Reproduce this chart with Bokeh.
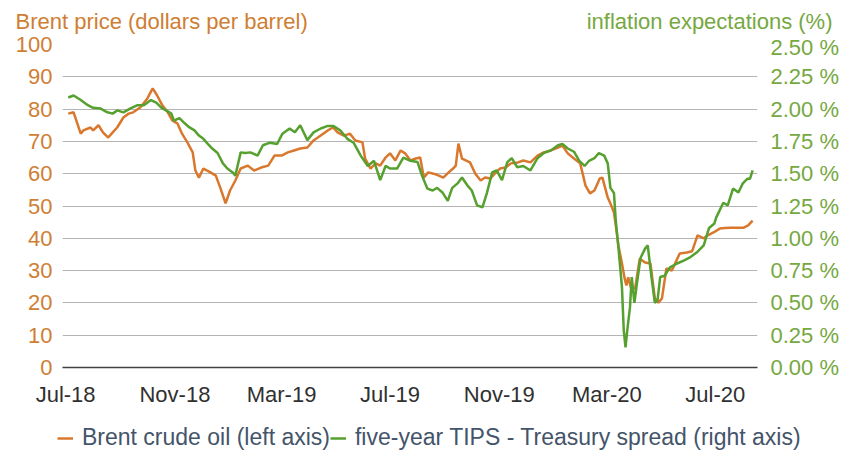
import pandas as pd
from bokeh.plotting import figure
from bokeh.layouts import column
from bokeh.models import (Range1d, LinearAxis, FixedTicker, PrintfTickFormatter,
                          DatetimeTickFormatter, Legend, LegendItem, Label, ColumnDataSource)
from bokeh.embed import file_html
from bokeh.resources import INLINE

# ---------------- data ----------------
brent_dates = [
    "2018-07-04", "2018-07-10", "2018-07-18", "2018-07-21", "2018-07-29", "2018-08-01", "2018-08-07",
    "2018-08-12", "2018-08-18", "2018-08-23", "2018-08-28", "2018-09-04", "2018-09-10", "2018-09-15",
    "2018-09-23", "2018-10-01", "2018-10-07", "2018-10-12", "2018-10-18", "2018-10-24", "2018-10-29",
    "2018-11-04", "2018-11-09", "2018-11-15", "2018-11-21", "2018-11-24", "2018-11-28", "2018-12-03",
    "2018-12-11", "2018-12-17", "2018-12-22", "2018-12-28", "2019-01-02", "2019-01-08", "2019-01-14",
    "2019-01-22", "2019-01-29", "2019-02-06", "2019-02-14", "2019-02-21", "2019-03-01", "2019-03-08",
    "2019-03-15", "2019-03-22", "2019-03-30", "2019-04-06", "2019-04-14", "2019-04-22", "2019-04-28",
    "2019-05-03", "2019-05-10", "2019-05-17", "2019-05-23", "2019-05-31", "2019-06-03", "2019-06-09",
    "2019-06-15", "2019-06-20", "2019-06-26", "2019-07-01", "2019-07-07", "2019-07-13", "2019-07-18",
    "2019-07-24", "2019-07-30", "2019-08-04", "2019-08-08", "2019-08-13", "2019-08-19", "2019-08-25",
    "2019-08-30", "2019-09-05", "2019-09-10", "2019-09-13", "2019-09-16", "2019-09-20", "2019-09-29",
    "2019-10-05", "2019-10-11", "2019-10-16", "2019-10-22", "2019-10-28", "2019-11-02", "2019-11-08",
    "2019-11-14", "2019-11-22", "2019-11-28", "2019-12-06", "2019-12-14", "2019-12-21", "2019-12-29",
    "2020-01-06", "2020-01-11", "2020-01-17", "2020-01-24", "2020-01-31", "2020-02-06", "2020-02-11",
    "2020-02-16", "2020-02-22", "2020-02-25", "2020-03-02", "2020-03-05", "2020-03-09", "2020-03-12",
    "2020-03-14", "2020-03-18", "2020-03-21", "2020-03-23", "2020-03-25", "2020-03-29", "2020-04-02",
    "2020-04-07", "2020-04-13", "2020-04-19", "2020-04-24", "2020-04-28", "2020-05-02", "2020-05-07",
    "2020-05-13", "2020-05-22", "2020-05-30", "2020-06-05", "2020-06-11", "2020-06-18", "2020-06-23",
    "2020-06-29", "2020-07-06", "2020-07-12", "2020-07-18", "2020-07-26", "2020-08-02", "2020-08-07",
    "2020-08-12",
]
brent_price = [
    78.6, 79.0, 72.4, 73.4, 74.3, 73.4, 75.0,
    72.8, 71.2, 72.8, 74.3, 77.4, 78.6, 79.0,
    80.5, 83.3, 86.4, 84.2, 81.1, 79.0, 76.5,
    75.5, 72.4, 69.7, 66.6, 61.0, 58.8, 61.6,
    60.4, 59.4, 55.7, 50.8, 54.8, 57.9, 61.6,
    62.5, 61.0, 61.9, 62.5, 65.6, 65.6, 66.6,
    67.2, 67.8, 68.1, 70.3, 71.8, 73.4, 74.3,
    72.8, 71.8, 72.4, 70.3, 69.7, 64.7, 61.6,
    63.2, 62.5, 65.0, 66.3, 64.1, 67.2, 66.3,
    64.1, 64.7, 65.0, 58.8, 60.4, 60.0, 59.4,
    58.8, 60.4, 61.6, 62.5, 69.3, 64.7, 63.5,
    60.0, 57.9, 58.8, 58.5, 60.4, 61.6, 61.9,
    63.2, 63.5, 64.1, 63.5, 65.6, 66.6, 67.2,
    68.1, 68.7, 66.3, 64.7, 63.2, 56.3, 53.9,
    54.8, 58.5, 58.8, 52.6, 50.8, 48.0, 42.0,
    37.8, 32.2, 27.6, 25.4, 27.9, 23.8, 24.8,
    33.7, 32.5, 32.2, 21.4, 20.1, 21.4, 30.7,
    30.0, 35.3, 35.6, 36.0, 40.9, 40.0, 41.0,
    41.8, 43.0, 43.2, 43.3, 43.3, 43.3, 44.0,
    45.5,
]

tips_dates = [
    "2018-07-04", "2018-07-10", "2018-07-18", "2018-07-26", "2018-08-01", "2018-08-09", "2018-08-17",
    "2018-08-23", "2018-08-28", "2018-09-04", "2018-09-12", "2018-09-20", "2018-09-27", "2018-10-05",
    "2018-10-11", "2018-10-17", "2018-10-22", "2018-10-28", "2018-10-31", "2018-11-06", "2018-11-12",
    "2018-11-17", "2018-11-23", "2018-11-28", "2018-12-03", "2018-12-08", "2018-12-13", "2018-12-19",
    "2018-12-25", "2018-12-30", "2019-01-05", "2019-01-08", "2019-01-14", "2019-01-19", "2019-01-25",
    "2019-02-02", "2019-02-08", "2019-02-16", "2019-02-24", "2019-03-02", "2019-03-10", "2019-03-16",
    "2019-03-22", "2019-03-30", "2019-04-06", "2019-04-14", "2019-04-22", "2019-04-28", "2019-05-06",
    "2019-05-14", "2019-05-21", "2019-05-29", "2019-06-06", "2019-06-13", "2019-06-20", "2019-06-26",
    "2019-07-01", "2019-07-09", "2019-07-16", "2019-07-24", "2019-08-01", "2019-08-06", "2019-08-12",
    "2019-08-18", "2019-08-23", "2019-08-29", "2019-09-04", "2019-09-09", "2019-09-15", "2019-09-20",
    "2019-09-26", "2019-10-01", "2019-10-07", "2019-10-13", "2019-10-18", "2019-10-24", "2019-10-29",
    "2019-11-04", "2019-11-10", "2019-11-15", "2019-11-21", "2019-11-28", "2019-12-06", "2019-12-14",
    "2019-12-21", "2019-12-29", "2020-01-06", "2020-01-11", "2020-01-17", "2020-01-24", "2020-01-30",
    "2020-02-05", "2020-02-10", "2020-02-16", "2020-02-21", "2020-02-27", "2020-03-02", "2020-03-05",
    "2020-03-09", "2020-03-11", "2020-03-14", "2020-03-18", "2020-03-20", "2020-03-22", "2020-03-24",
    "2020-03-27", "2020-03-29", "2020-04-01", "2020-04-04", "2020-04-08", "2020-04-13", "2020-04-16",
    "2020-04-20", "2020-04-24", "2020-04-27", "2020-04-30", "2020-05-05", "2020-05-11", "2020-05-19",
    "2020-05-27", "2020-06-02", "2020-06-10", "2020-06-18", "2020-06-24", "2020-06-30", "2020-07-02",
    "2020-07-10", "2020-07-15", "2020-07-21", "2020-07-27", "2020-08-01", "2020-08-06", "2020-08-09",
    "2020-08-12",
]
tips_spread = [
    2.09, 2.105, 2.07, 2.03, 2.01, 2.005, 1.975,
    1.965, 1.99, 1.975, 2.005, 2.03, 2.03, 2.07,
    2.05, 2.01, 1.99, 1.965, 1.91, 1.93, 1.89,
    1.86, 1.835, 1.795, 1.77, 1.73, 1.695, 1.66,
    1.58, 1.54, 1.51, 1.485, 1.665, 1.66, 1.665,
    1.64, 1.72, 1.74, 1.73, 1.81, 1.85, 1.82,
    1.875, 1.76, 1.82, 1.85, 1.87, 1.87, 1.835,
    1.77, 1.74, 1.64, 1.56, 1.60, 1.45, 1.56,
    1.54, 1.54, 1.625, 1.60, 1.59, 1.485, 1.385,
    1.37, 1.39, 1.355, 1.29, 1.39, 1.425, 1.47,
    1.41, 1.37, 1.255, 1.24, 1.35, 1.51, 1.525,
    1.45, 1.59, 1.62, 1.55, 1.56, 1.525, 1.62,
    1.66, 1.68, 1.72, 1.73, 1.695, 1.67, 1.60,
    1.56, 1.60, 1.62, 1.66, 1.64, 1.58, 1.39,
    1.35, 1.14, 0.93, 0.62, 0.29, 0.155, 0.29,
    0.465, 0.70, 0.50, 0.66, 0.85, 0.92, 0.945,
    0.71, 0.50, 0.52, 0.70, 0.71, 0.775, 0.805,
    0.83, 0.85, 0.89, 0.945, 1.08, 1.115, 1.16,
    1.275, 1.255, 1.385, 1.355, 1.425, 1.46, 1.46,
    1.525,
]

x_tick_dates = ["2018-07-01", "2018-11-01", "2019-03-01", "2019-07-01",
                "2019-11-01", "2020-03-01", "2020-07-01"]
left_ticks = [0, 10, 20, 30, 40, 50, 60, 70, 80, 90, 100]
right_ticks = [0.0, 0.25, 0.5, 0.75, 1.0, 1.25, 1.5, 1.75, 2.0, 2.25, 2.5]

left_title = "Brent price (dollars per barrel)"
right_title = "inflation expectations (%)"
brent_label = "Brent crude oil (left axis)"
tips_label = "five-year TIPS - Treasury spread (right axis)"

# ---------------- style ----------------
FONT = "Liberation Sans"
ORANGE = "#D9782D"
GREEN = "#55A02F"
ORANGE_TXT = "#CF7E33"
GREEN_TXT = "#76A842"
W = 846
TOP_H = 34
MAIN_H = 376
BOT_H = 46


def bare(fig):
    fig.outline_line_color = None
    fig.xgrid.visible = False
    fig.ygrid.visible = False
    fig.background_fill_color = "white"
    fig.border_fill_color = "white"
    fig.frame_align = False
    return fig


# ---------------- header (axis titles) ----------------
ft = figure(width=W, height=TOP_H, title=None, output_backend="svg", toolbar_location=None,
            x_range=Range1d(0, W), y_range=Range1d(0, TOP_H),
            x_axis_location=None, y_axis_location=None, min_border=0)
bare(ft)
ft.add_layout(Label(x=15, y=13.5, text=left_title, text_font=FONT, text_font_size="22px",
                    text_color=ORANGE_TXT, text_align="left", text_baseline="alphabetic"))
ft.add_layout(Label(x=832, y=13.5, text=right_title, text_font=FONT, text_font_size="22px",
                    text_color=GREEN_TXT, text_align="right", text_baseline="alphabetic"))

# ---------------- main chart ----------------
src_b = ColumnDataSource(dict(x=pd.to_datetime(brent_dates), y=brent_price))
src_t = ColumnDataSource(dict(x=pd.to_datetime(tips_dates), y=tips_spread))

x_rng = Range1d(pd.Timestamp("2018-06-27 12:00"), pd.Timestamp("2020-08-17 12:00"))
p = figure(width=W, height=MAIN_H, title=None, x_axis_type="datetime",
           output_backend="svg", toolbar_location=None,
           x_range=x_rng, y_range=Range1d(0, 100),
           min_border_left=62, min_border_right=89, min_border_top=10, min_border_bottom=43)
p.outline_line_color = None
p.background_fill_color = "white"
p.border_fill_color = "white"
p.extra_y_ranges = {"pct": Range1d(0, 2.5)}

r1 = p.line("x", "y", source=src_b, line_color=ORANGE, line_width=2.5)
r2 = p.line("x", "y", source=src_t, y_range_name="pct", line_color=GREEN, line_width=2.5)

p.xgrid.visible = False
p.ygrid.grid_line_color = "#B4B4B4"
p.ygrid.grid_line_width = 1

xa = p.xaxis[0]
xa.ticker = FixedTicker(ticks=[pd.Timestamp(d).value // 10**6 for d in x_tick_dates])
xa.formatter = DatetimeTickFormatter(months="%b-%y", days="%b-%y", years="%b-%y",
                                     hours="%b-%y", minutes="%b-%y", seconds="%b-%y")
xa.axis_line_color = "#404040"
xa.axis_line_width = 1.5
xa.major_tick_line_color = None
xa.minor_tick_line_color = None
xa.major_tick_out = 0
xa.major_label_standoff = 14
xa.major_label_text_font = FONT
xa.major_label_text_font_size = "22px"
xa.major_label_text_color = "#303030"

ya = p.yaxis[0]
ya.ticker = FixedTicker(ticks=left_ticks)
ya.axis_line_color = None
ya.major_tick_line_color = None
ya.minor_tick_line_color = None
ya.major_tick_out = 0
ya.major_label_standoff = 10
ya.major_label_text_font = FONT
ya.major_label_text_font_size = "22px"
ya.major_label_text_color = ORANGE_TXT

yr = LinearAxis(y_range_name="pct", ticker=FixedTicker(ticks=right_ticks),
                formatter=PrintfTickFormatter(format="%.2f %%"))
yr.axis_line_color = None
yr.major_tick_line_color = None
yr.minor_tick_line_color = None
yr.major_tick_out = 0
yr.major_label_standoff = 13
yr.major_label_text_font = FONT
yr.major_label_text_font_size = "22px"
yr.major_label_text_color = GREEN_TXT
p.add_layout(yr, "right")

# ---------------- footer (legend) ----------------
# same series, drawn far outside this strip's visible range so only the legend shows
fb = figure(width=W, height=BOT_H, title=None, output_backend="svg", toolbar_location=None,
            x_range=Range1d(0, W), y_range=Range1d(1000, 1000 + BOT_H),
            x_axis_location=None, y_axis_location=None, min_border=0)
bare(fb)
lb = fb.line(x=list(range(len(brent_price))), y=brent_price, line_color=ORANGE, line_width=2.5)
lt = fb.line(x=list(range(len(tips_spread))), y=tips_spread, line_color=GREEN, line_width=2.5)
legend = Legend(items=[LegendItem(label=brent_label, renderers=[lb]),
                       LegendItem(label=tips_label, renderers=[lt])],
                location=(57, 5), orientation="horizontal",
                label_text_font=FONT, label_text_font_size="23px", label_text_color="#44546A",
                glyph_width=16, glyph_height=22, label_height=22, label_standoff=9,
                spacing=0, padding=0, margin=0,
                border_line_alpha=0, background_fill_alpha=0)
fb.add_layout(legend)

layout = column(ft, p, fb, spacing=0)
open("out.html", "w").write(file_html(layout, INLINE))
